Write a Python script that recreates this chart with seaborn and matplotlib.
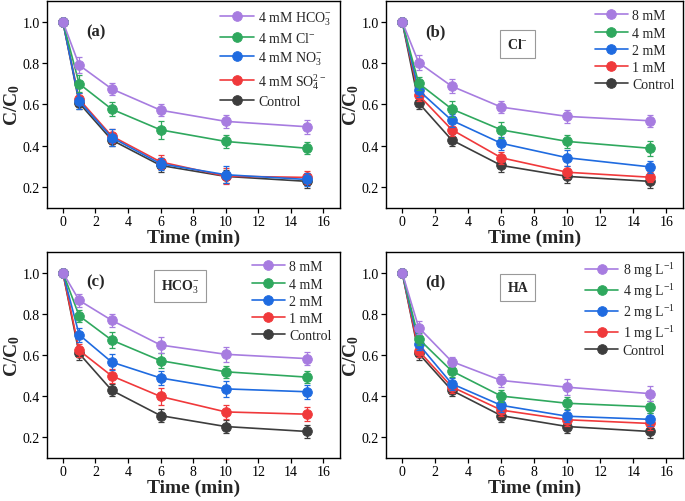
import numpy as np
import pandas as pd
import seaborn as sns
import matplotlib.pyplot as plt

time = [0, 1, 3, 6, 10, 15]

# control run is shared by every panel
control = [1.0, 0.607, 0.428, 0.305, 0.252, 0.228]
control_err = [0.0, 0.03, 0.03, 0.03, 0.03, 0.03]

# (a) different anions, 4 mM
a_labels = ["4 mM HCO$_3^{-}$", "4 mM Cl$^{-}$", "4 mM NO$_3^{-}$", "4 mM SO$_4^{2-}$", "Control"]
a_hco3 = [1.0, 0.790, 0.675, 0.572, 0.518, 0.492]
a_cl = [1.0, 0.700, 0.577, 0.477, 0.421, 0.388]
a_no3 = [1.0, 0.617, 0.440, 0.313, 0.260, 0.237]
a_so4 = [1.0, 0.625, 0.447, 0.322, 0.253, 0.247]
a_err = [
    [0.0, 0.04, 0.03, 0.03, 0.03, 0.035],
    [0.0, 0.04, 0.035, 0.045, 0.03, 0.03],
    [0.0, 0.04, 0.04, 0.03, 0.04, 0.03],
    [0.0, 0.03, 0.035, 0.035, 0.04, 0.03],
]

# (b) Cl-
b_labels = ["8 mM", "4 mM", "2 mM", "1 mM", "Control"]
b_8 = [1.0, 0.802, 0.688, 0.587, 0.542, 0.521]
b_4 = [1.0, 0.702, 0.578, 0.477, 0.421, 0.388]
b_2 = [1.0, 0.668, 0.523, 0.412, 0.342, 0.298]
b_1 = [1.0, 0.645, 0.478, 0.342, 0.272, 0.248]
b_err = [
    [0.0, 0.035, 0.035, 0.03, 0.03, 0.03],
    [0.0, 0.03, 0.04, 0.04, 0.03, 0.035],
    [0.0, 0.03, 0.03, 0.03, 0.04, 0.03],
    [0.0, 0.03, 0.03, 0.03, 0.03, 0.025],
]

# (c) HCO3-
c_labels = ["8 mM", "4 mM", "2 mM", "1 mM", "Control"]
c_8 = [1.0, 0.865, 0.768, 0.648, 0.603, 0.582]
c_4 = [1.0, 0.790, 0.672, 0.572, 0.518, 0.492]
c_2 = [1.0, 0.698, 0.565, 0.488, 0.435, 0.421]
c_1 = [1.0, 0.622, 0.498, 0.398, 0.323, 0.312]
c_err = [
    [0.0, 0.03, 0.03, 0.04, 0.035, 0.03],
    [0.0, 0.03, 0.04, 0.035, 0.03, 0.03],
    [0.0, 0.035, 0.04, 0.035, 0.04, 0.035],
    [0.0, 0.03, 0.035, 0.04, 0.035, 0.035],
]

# (d) HA
d_labels = ["8 mg L$^{-1}$", "4 mg L$^{-1}$", "2 mg L$^{-1}$", "1 mg L$^{-1}$", "Control"]
d_8 = [1.0, 0.733, 0.568, 0.476, 0.443, 0.412]
d_4 = [1.0, 0.678, 0.522, 0.400, 0.365, 0.348]
d_2 = [1.0, 0.652, 0.460, 0.355, 0.302, 0.287]
d_1 = [1.0, 0.620, 0.445, 0.332, 0.285, 0.267]
d_err = [
    [0.0, 0.03, 0.02, 0.03, 0.04, 0.035],
    [0.0, 0.03, 0.03, 0.03, 0.03, 0.03],
    [0.0, 0.03, 0.03, 0.03, 0.03, 0.03],
    [0.0, 0.03, 0.03, 0.03, 0.03, 0.03],
]

colors = ["#a77ce0", "#2fa85e", "#1f6be0", "#f0393b", "#3d3d3d"]

sns.set_style("ticks")
plt.rcParams["font.family"] = ["Liberation Serif", "DejaVu Serif"]
plt.rcParams["mathtext.fontset"] = "custom"
plt.rcParams["mathtext.rm"] = "Liberation Serif"
plt.rcParams["mathtext.it"] = "Liberation Serif:italic"
plt.rcParams["mathtext.bf"] = "Liberation Serif:bold"
plt.rcParams["axes.edgecolor"] = "black"
plt.rcParams["xtick.color"] = "black"
plt.rcParams["ytick.color"] = "black"

fig = plt.figure(figsize=(6.85, 5.02), dpi=100)
boxes = [
    [0.068, 0.584, 0.428, 0.412],
    [0.563, 0.584, 0.434, 0.412],
    [0.068, 0.086, 0.428, 0.41],
    [0.563, 0.086, 0.434, 0.41],
]

panels = [
    ("(a)", None, a_labels, [a_hco3, a_cl, a_no3, a_so4], a_err, None, 0.3),
    ("(b)", "Cl$^{-}$", b_labels, [b_8, b_4, b_2, b_1], b_err, (7.0, 0.89), 0.3),
    ("(c)", "HCO$_3^{-}$", c_labels, [c_8, c_4, c_2, c_1], c_err, (7.2, 0.935), 0.3),
    ("(d)", "HA", d_labels, [d_8, d_4, d_2, d_1], d_err, (7.0, 0.926), 0.15),
]

for box, (tag, inset, labels, series, errs, inset_pos, lsp) in zip(boxes, panels):
    ax = fig.add_axes(box)
    rows = []
    for lab, vals in zip(labels, series + [control]):
        for t, v in zip(time, vals):
            rows.append({"time": t, "c": v, "sample": lab})
    df = pd.DataFrame(rows)
    # draw control first so the top series end up in front
    for lab in labels[::-1]:
        i = labels.index(lab)
        e = (errs + [control_err])[i]
        sub = df[df["sample"] == lab]
        ax.errorbar(sub["time"], sub["c"], yerr=e, fmt="none",
                    ecolor=colors[i], elinewidth=0.9, capsize=2.5, capthick=0.9)
        sns.lineplot(data=sub, x="time", y="c", color=colors[i], marker="o",
                     markersize=7, markeredgewidth=0.6, markeredgecolor=colors[i],
                     linewidth=1.2, label=lab, ax=ax)
    h, l = ax.get_legend_handles_labels()
    ax.legend(h[::-1], l[::-1], loc="upper right", frameon=False, fontsize=10,
              handlelength=2.4, labelspacing=lsp, handletextpad=0.3,
              borderaxespad=0.2)
    ax.set_xlim(-1, 17)
    ax.set_ylim(0.1, 1.1)
    ax.set_xticks([0, 2, 4, 6, 8, 10, 12, 14, 16])
    ax.set_yticks([0.2, 0.4, 0.6, 0.8, 1.0])
    ax.tick_params(labelsize=10, direction="out", length=3.5, width=0.9, pad=1.5)
    for s in ax.spines.values():
        s.set_visible(True)
        s.set_linewidth(1.0)
    ax.set_xlabel("Time (min)", fontsize=14, fontweight="bold", labelpad=1)
    ax.set_ylabel(r"$\mathbf{C/C_0}$", fontsize=14, labelpad=0)
    ax.text(2.0, 0.955, tag, fontsize=12, fontweight="bold", ha="center", va="center")
    if inset:
        ax.text(inset_pos[0], inset_pos[1], inset, fontsize=10, fontweight="bold",
                ha="center", va="center",
                bbox=dict(boxstyle="square,pad=0.5", fc="white", ec="#999999", lw=0.8))

fig.savefig("out.png", dpi=100)
